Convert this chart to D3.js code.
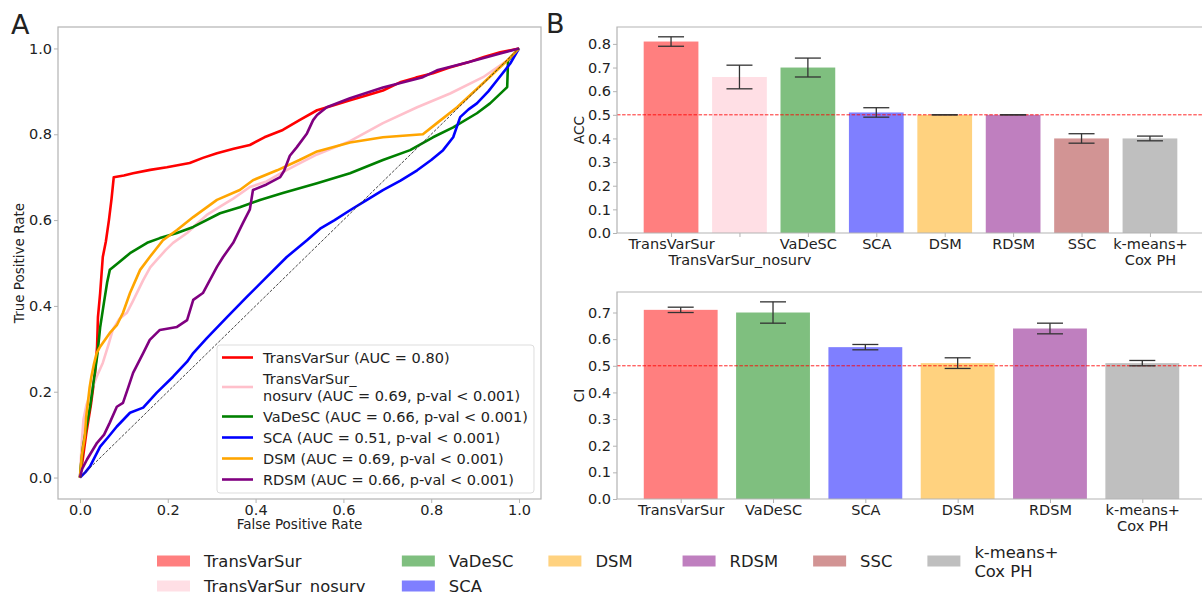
<!DOCTYPE html>
<html>
<head>
<meta charset="utf-8">
<script src="https://cdn.jsdelivr.net/npm/d3@7"></script>
<style>
  body { margin: 0; background: #fff; }
  text { font-family: "DejaVu Sans", sans-serif; fill: #222; }
</style>
</head>
<body>
<svg id="fig" width="1202" height="595"></svg>
<script>
// ---------- ROC curves (panel A), [fpr, tpr] ----------
const rocTransVarSur = [[0,0],[0.006,0.04],[0.014,0.10],[0.025,0.17],[0.034,0.24],[0.039,0.305],[0.041,0.374],[0.046,0.43],[0.052,0.514],[0.059,0.55],[0.066,0.60],[0.072,0.65],[0.077,0.70],[0.10,0.704],[0.121,0.709],[0.16,0.717],[0.198,0.723],[0.25,0.733],[0.28,0.745],[0.312,0.756],[0.35,0.766],[0.387,0.775],[0.42,0.793],[0.462,0.81],[0.50,0.833],[0.54,0.856],[0.58,0.868],[0.615,0.879],[0.65,0.89],[0.69,0.902],[0.729,0.921],[0.765,0.932],[0.804,0.942],[0.84,0.955],[0.882,0.967],[0.92,0.98],[0.957,0.991],[1,1]];
const rocNosurv = [[0,0],[0.004,0.08],[0.008,0.135],[0.015,0.17],[0.025,0.20],[0.038,0.235],[0.052,0.267],[0.065,0.31],[0.075,0.345],[0.09,0.37],[0.107,0.384],[0.12,0.41],[0.144,0.46],[0.16,0.49],[0.175,0.507],[0.195,0.53],[0.212,0.547],[0.244,0.57],[0.27,0.595],[0.289,0.612],[0.32,0.632],[0.349,0.65],[0.387,0.677],[0.425,0.69],[0.462,0.712],[0.50,0.732],[0.54,0.753],[0.615,0.784],[0.69,0.826],[0.768,0.863],[0.843,0.895],[0.918,0.933],[0.973,0.972],[1,1]];
const rocVaDeSC = [[0,0],[0.002,0.026],[0.007,0.072],[0.015,0.12],[0.023,0.165],[0.034,0.244],[0.04,0.29],[0.046,0.35],[0.055,0.41],[0.062,0.455],[0.068,0.484],[0.087,0.50],[0.114,0.523],[0.153,0.547],[0.182,0.558],[0.221,0.57],[0.258,0.584],[0.319,0.616],[0.364,0.63],[0.41,0.647],[0.462,0.663],[0.54,0.686],[0.615,0.709],[0.69,0.74],[0.752,0.763],[0.804,0.793],[0.85,0.816],[0.904,0.849],[0.934,0.872],[0.973,0.91],[0.975,0.972],[1,1]];
const rocSCA = [[0,0],[0.012,0.012],[0.023,0.026],[0.046,0.072],[0.065,0.095],[0.084,0.119],[0.114,0.151],[0.144,0.163],[0.175,0.198],[0.212,0.235],[0.244,0.27],[0.258,0.29],[0.289,0.325],[0.335,0.374],[0.38,0.421],[0.425,0.467],[0.471,0.514],[0.517,0.553],[0.547,0.58],[0.58,0.60],[0.615,0.623],[0.65,0.645],[0.69,0.67],[0.73,0.692],[0.768,0.716],[0.80,0.74],[0.827,0.763],[0.85,0.793],[0.866,0.84],[0.885,0.858],[0.904,0.872],[0.93,0.90],[0.95,0.926],[0.98,0.965],[1,1]];
const rocDSM = [[0,0],[0.004,0.05],[0.011,0.095],[0.014,0.14],[0.018,0.174],[0.022,0.21],[0.026,0.235],[0.032,0.265],[0.038,0.29],[0.046,0.305],[0.068,0.337],[0.084,0.355],[0.098,0.384],[0.114,0.43],[0.137,0.484],[0.159,0.514],[0.189,0.553],[0.221,0.577],[0.258,0.607],[0.312,0.647],[0.364,0.67],[0.394,0.693],[0.449,0.716],[0.50,0.74],[0.54,0.76],[0.615,0.781],[0.69,0.793],[0.781,0.80],[0.813,0.826],[0.859,0.863],[0.918,0.919],[0.973,0.972],[1,1]];
const rocRDSM = [[0,0],[0.005,0.02],[0.016,0.042],[0.039,0.081],[0.055,0.10],[0.068,0.128],[0.084,0.165],[0.098,0.174],[0.11,0.21],[0.121,0.244],[0.144,0.29],[0.159,0.321],[0.182,0.344],[0.221,0.351],[0.244,0.367],[0.258,0.414],[0.28,0.43],[0.312,0.491],[0.326,0.514],[0.349,0.547],[0.371,0.593],[0.387,0.625],[0.394,0.67],[0.425,0.683],[0.456,0.70],[0.465,0.715],[0.478,0.75],[0.494,0.77],[0.517,0.802],[0.531,0.833],[0.54,0.845],[0.562,0.863],[0.615,0.884],[0.69,0.909],[0.781,0.933],[0.813,0.949],[0.882,0.967],[0.957,0.988],[1,1]];
const rocChance = [[0,0],[1,1]];

const rocCurves = [rocTransVarSur, rocNosurv, rocVaDeSC, rocSCA, rocDSM, rocRDSM];
const rocColors = ["red", "pink", "green", "blue", "orange", "purple"];
const rocLabels = [
  "TransVarSur (AUC = 0.80)",
  "TransVarSur_\nnosurv (AUC = 0.69, p-val < 0.001)",
  "VaDeSC (AUC = 0.66, p-val < 0.001)",
  "SCA (AUC = 0.51, p-val < 0.001)",
  "DSM (AUC = 0.69, p-val < 0.001)",
  "RDSM (AUC = 0.66, p-val < 0.001)"
];
const rocTicks = [0, 0.2, 0.4, 0.6, 0.8, 1.0];

// ---------- bar charts (panel B) ----------
const accLabels = ["TransVarSur", "\nTransVarSur_nosurv", "VaDeSC", "SCA", "DSM", "RDSM", "SSC", "k-means+\nCox PH"];
const accMean   = [0.81, 0.66, 0.70, 0.51, 0.50, 0.50, 0.40, 0.40];
const accErr    = [0.02, 0.05, 0.04, 0.02, 0.00, 0.00, 0.02, 0.01];
const accColors = ["red", "pink", "green", "blue", "orange", "purple", "brown", "gray"];

const ciLabels = ["TransVarSur", "VaDeSC", "SCA", "DSM", "RDSM", "k-means+\nCox PH"];
const ciMean   = [0.71, 0.70, 0.57, 0.51, 0.64, 0.51];
const ciErr    = [0.01, 0.04, 0.01, 0.02, 0.02, 0.01];
const ciColors = ["red", "green", "blue", "orange", "purple", "gray"];

const barTicks = [0, 0.1, 0.2, 0.3, 0.4, 0.5, 0.6, 0.7, 0.8];

const legendLabels = ["TransVarSur", "TransVarSur_nosurv", "VaDeSC", "SCA", "DSM", "RDSM", "SSC", "k-means+\nCox PH"];
const legendColors = ["red", "pink", "green", "blue", "orange", "purple", "brown", "gray"];

// ---------- drawing ----------
const svg = d3.select("#fig");
const frameColor = "#b3b3b3";
const fmt = d3.format(".1f");
const tickFs = 14.5;

// split "\n" labels into tspans placed at absolute offsets from the text's y
function multiline(sel, lh, firstDy) {
  sel.each(function() {
    const t = d3.select(this);
    const lines = String(t.text()).split("\n");
    const x0 = t.attr("x") || 0;
    const y0 = +(t.attr("y") || 0);
    t.text(null).attr("dy", null);
    lines.forEach((s, i) => {
      t.append("tspan").attr("x", x0).attr("y", y0 + (firstDy || 0) + i * lh).text(s);
    });
  });
}

function styleAxis(g) {
  g.select(".domain").remove();
  g.selectAll(".tick line").attr("stroke", frameColor).attr("stroke-width", 1);
  g.selectAll(".tick text").style("font-size", tickFs + "px").attr("fill", "#222");
}

// ---- Panel A ----
const boxA = { left: 58, right: 541, top: 27, bottom: 499 };
const xA = d3.scaleLinear().domain([-0.05, 1.05]).range([boxA.left, boxA.right]);
const yA = d3.scaleLinear().domain([-0.05, 1.05]).range([boxA.bottom, boxA.top]);

svg.append("g")
  .attr("transform", "translate(0," + boxA.bottom + ")")
  .call(d3.axisBottom(xA).tickValues(rocTicks).tickFormat(fmt).tickSize(4).tickPadding(2))
  .call(styleAxis);
svg.append("g")
  .attr("transform", "translate(" + boxA.left + ",0)")
  .call(d3.axisLeft(yA).tickValues(rocTicks).tickFormat(fmt).tickSize(4).tickPadding(2))
  .call(styleAxis);

const line = d3.line().x(d => xA(d[0])).y(d => yA(d[1]));

svg.append("g").selectAll("path.roc")
  .data(rocCurves)
  .enter().append("path")
  .attr("class", "roc")
  .attr("d", line)
  .attr("fill", "none")
  .attr("stroke", (d, i) => rocColors[i])
  .attr("stroke-width", 2.6)
  .attr("stroke-linejoin", "round");

svg.append("path")
  .datum(rocChance)
  .attr("d", line)
  .attr("fill", "none")
  .attr("stroke", "#333")
  .attr("stroke-width", 0.9)
  .attr("stroke-dasharray", "3,1.5");

svg.append("rect")
  .attr("x", boxA.left).attr("y", boxA.top)
  .attr("width", boxA.right - boxA.left).attr("height", boxA.bottom - boxA.top)
  .attr("fill", "none").attr("stroke", frameColor).attr("stroke-width", 1.2);

svg.append("text").attr("x", (boxA.left + boxA.right) / 2).attr("y", 529)
  .attr("text-anchor", "middle").style("font-size", "13.5px").text("False Positive Rate");
svg.append("text").attr("transform", "translate(24," + (boxA.top + boxA.bottom) / 2 + ") rotate(-90)")
  .attr("text-anchor", "middle").style("font-size", "13.5px").text("True Positive Rate");
svg.append("text").attr("x", 11).attr("y", 34).style("font-size", "27px").text("A");

// legend in panel A
const legA = svg.append("g");
const legBg = legA.append("rect");
let ly = 349;
const lineH = 17;
rocLabels.forEach((lab, i) => {
  const n = lab.split("\n").length;
  const cy = ly + n * lineH / 2;
  legA.append("line")
    .attr("x1", 222).attr("x2", 253).attr("y1", cy).attr("y2", cy)
    .attr("stroke", rocColors[i]).attr("stroke-width", 2.6);
  legA.append("text")
    .attr("x", 263).attr("y", ly + lineH / 2 + 5)
    .style("font-size", "14.5px")
    .text(lab)
    .call(multiline, lineH);
  ly += n * lineH + 4;
});
const bbA = legA.node().getBBox();
legBg.attr("x", 217).attr("y", 345)
  .attr("width", bbA.x + bbA.width + 6 - 217)
  .attr("height", ly - 345 + 1)
  .attr("rx", 3)
  .attr("fill", "#fff").attr("fill-opacity", 0.85)
  .attr("stroke", "#ddd").attr("stroke-width", 1);

// ---- Panel B ----
function barPanel(box, labels, means, errs, colors, ymax, ylabel) {
  const n = labels.length;
  const m = 0.05 * (n - 1 + 0.8);
  const x = d3.scaleLinear().domain([-0.4 - m, n - 1 + 0.4 + m]).range([box.left, box.right]);
  const y = d3.scaleLinear().domain([0, ymax]).range([box.bottom, box.top]);
  const idx = d3.range(n);
  const g = svg.append("g");

  g.selectAll("rect.bar").data(idx).enter().append("rect")
    .attr("class", "bar")
    .attr("x", i => x(i - 0.4))
    .attr("width", i => x(i + 0.4) - x(i - 0.4))
    .attr("y", i => y(means[i]))
    .attr("height", i => y(0) - y(means[i]))
    .attr("fill", i => colors[i])
    .attr("fill-opacity", 0.5);

  g.append("line")
    .attr("x1", box.left).attr("x2", box.right)
    .attr("y1", y(0.5)).attr("y2", y(0.5))
    .attr("stroke", "red").attr("stroke-width", 1).attr("stroke-opacity", 0.85)
    .attr("stroke-dasharray", "3.5,1.6");

  const eb = g.selectAll("g.err").data(idx).enter().append("g").attr("class", "err")
    .attr("stroke", "#333").attr("stroke-width", 1.3);
  eb.append("line").attr("x1", i => x(i)).attr("x2", i => x(i))
    .attr("y1", i => y(means[i] - errs[i])).attr("y2", i => y(means[i] + errs[i]));
  eb.append("line").attr("x1", i => x(i) - 13).attr("x2", i => x(i) + 13)
    .attr("y1", i => y(means[i] + errs[i])).attr("y2", i => y(means[i] + errs[i]));
  eb.append("line").attr("x1", i => x(i) - 13).attr("x2", i => x(i) + 13)
    .attr("y1", i => y(means[i] - errs[i])).attr("y2", i => y(means[i] - errs[i]));

  const ticks = barTicks.filter(t => t <= ymax + 1e-9);
  g.append("g").attr("transform", "translate(" + box.left + ",0)")
    .call(d3.axisLeft(y).tickValues(ticks).tickFormat(fmt).tickSize(4).tickPadding(2))
    .call(styleAxis);
  const xa = g.append("g").attr("transform", "translate(0," + box.bottom + ")")
    .call(d3.axisBottom(x).tickValues(idx).tickFormat(i => labels[i]).tickSize(4).tickPadding(2))
    .call(styleAxis);
  xa.selectAll(".tick text").attr("x", 0).call(multiline, 16, 0.71 * tickFs);

  g.append("path")
    .attr("d", "M" + box.right + "," + box.top + "H" + box.left + "V" + box.bottom + "H" + box.right)
    .attr("fill", "none").attr("stroke", frameColor).attr("stroke-width", 1.2);

  g.append("text")
    .attr("transform", "translate(584," + (box.top + box.bottom) / 2 + ") rotate(-90)")
    .attr("text-anchor", "middle").style("font-size", "13.5px").text(ylabel);
}

barPanel({ left: 617, right: 1204, top: 27, bottom: 233 },
  accLabels, accMean, accErr, accColors, 0.8715, "ACC");
barPanel({ left: 617, right: 1206, top: 292, bottom: 499 },
  ciLabels, ciMean, ciErr, ciColors, 0.777, "CI");

svg.append("text").attr("x", 546).attr("y", 33).style("font-size", "27px").text("B");

// ---- shared legend (matplotlib style, column-major, 6 columns) ----
const cols = [[0, 1], [2, 3], [4], [5], [6], [7]];
const colGap = [35, 35, 50, 35, 35, 35];
const rowY = [561, 586];
const legB = svg.append("g");
let cx = 157;
cols.forEach((col, c) => {
  let maxW = 0;
  col.forEach((k, r) => {
    legB.append("rect")
      .attr("x", cx).attr("y", rowY[r] - 5.5)
      .attr("width", 33).attr("height", 11)
      .attr("fill", legendColors[k]).attr("fill-opacity", 0.5);
    const lines = legendLabels[k].split("\n");
    const t = legB.append("text")
      .attr("x", cx + 47)
      .attr("y", rowY[r] + 6 - (lines.length - 1) * 9.5)
      .style("font-size", "16.4px")
      .text(legendLabels[k])
      .call(multiline, 19);
    maxW = Math.max(maxW, t.node().getBBox().width);
  });
  cx += 47 + maxW + colGap[c];
});
</script>
</body>
</html>
